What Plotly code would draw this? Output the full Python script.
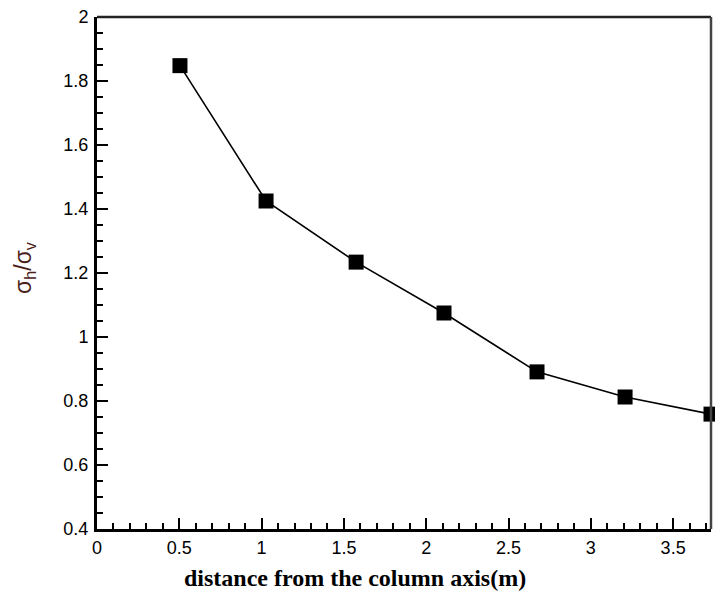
import plotly.graph_objects as go

distance = [0.504, 1.027, 1.574, 2.108, 2.673, 3.208, 3.73]
ratio = [1.848, 1.425, 1.234, 1.075, 0.891, 0.8125, 0.759]

x_title = "distance from the column axis(m)"
y_title = "σ<sub>h</sub>/σ<sub>v</sub>"

fig = go.Figure()
fig.add_trace(go.Scatter(
    x=distance, y=ratio, mode="lines+markers",
    line=dict(color="black", width=1.6),
    marker=dict(symbol="square", size=15, color="black"),
    cliponaxis=False, showlegend=False,
))

tickfont = dict(family="Liberation Sans, Arial", size=18, color="black")

fig.update_layout(
    width=715, height=607,
    margin=dict(l=97, r=4, t=17, b=78),
    paper_bgcolor="white", plot_bgcolor="white",
    xaxis=dict(
        range=[0, 3.73], dtick=0.5, tick0=0,
        ticks="inside", ticklen=11, tickwidth=2, tickcolor="black",
        minor=dict(dtick=0.1, ticks="inside", ticklen=6, tickwidth=2, tickcolor="black"),
        showline=True, linewidth=3, linecolor="black",
        showgrid=False, zeroline=False,
        tickfont=tickfont,
        ticklabelstandoff=0,
    ),
    yaxis=dict(
        range=[0.4, 2.0], dtick=0.2, tick0=0,
        ticks="inside", ticklen=11, tickwidth=2, tickcolor="black",
        minor=dict(dtick=0.05, ticks="inside", ticklen=6, tickwidth=2, tickcolor="black"),
        showline=True, linewidth=3, linecolor="black",
        showgrid=False, zeroline=False,
        tickfont=tickfont,
        ticklabelstandoff=2,
    ),
    shapes=[
        dict(type="line", xref="paper", yref="paper", x0=0, x1=1, y0=1, y1=1,
             line=dict(color="#222", width=2.5)),
        dict(type="line", xref="paper", yref="paper", x0=1, x1=1, y0=0, y1=1,
             line=dict(color="#444", width=2.5)),
    ],
    annotations=[
        dict(text=x_title, xref="paper", yref="paper", x=(355 - 97) / 614, y=-0.095,
             xanchor="center", yanchor="middle", showarrow=False,
             font=dict(family="Liberation Serif, Times New Roman", size=24, color="black",
                       weight="bold")),
        dict(text=y_title, xref="paper", yref="paper", x=(25 - 97) / 614, y=0.51,
             xanchor="center", yanchor="middle", showarrow=False, textangle=-90,
             font=dict(family="Liberation Sans, Arial", size=23, color="#4a2018")),
    ],
)

fig.write_html("out.html")
